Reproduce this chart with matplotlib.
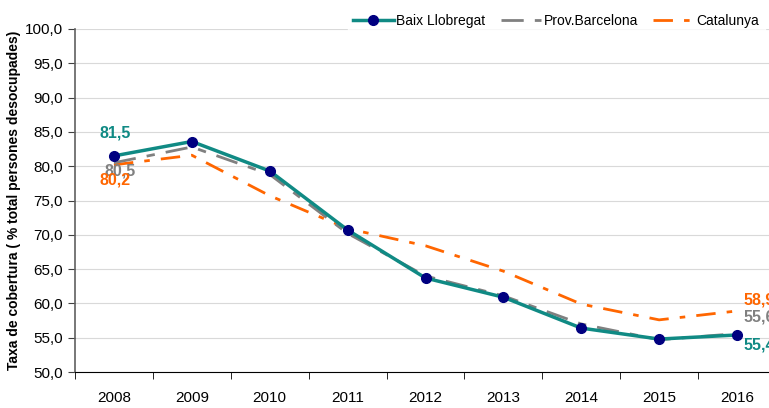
import numpy as np
import matplotlib.pyplot as plt

years = ['2008', '2009', '2010', '2011', '2012', '2013', '2014', '2015', '2016']
baix = [81.5, 83.6, 79.3, 70.7, 63.7, 60.9, 56.4, 54.8, 55.4]
prov = [80.5, 82.8, 78.8, 70.2, 64.0, 61.1, 57.0, 54.7, 55.6]
cat = [80.2, 81.6, 75.7, 70.9, 68.4, 64.7, 59.9, 57.6, 58.9]

plt.rcParams['font.family'] = ['Liberation Sans Narrow', 'Liberation Sans', 'DejaVu Sans']

teal = '#108a84'
navy = '#000080'
grey = '#808080'
orange = '#ff6600'

fig = plt.figure(figsize=(7.69, 4.08), dpi=100)
ax = fig.add_axes([75/769, 36/408, 701/769, 343/408])

x = np.arange(len(years))
ax.plot(x, cat, color=orange, lw=2, dashes=(7, 4, 2, 4), label='Catalunya', zorder=2)
ax.plot(x, prov, color=grey, lw=2, dashes=(8, 4, 3, 4), label='Prov.Barcelona', zorder=3)
ax.plot(x, baix, color=teal, lw=2.5, marker='o', ms=7, mfc=navy, mec=navy,
        label='Baix Llobregat', zorder=4)

fmt = lambda v: ('%.1f' % v).replace('.', ',')
lab = dict(fontsize=11.5, fontweight='bold', va='center')
ax.text(0.02, baix[0] + 3.3, fmt(baix[0]), color=teal, ha='center', **lab)
ax.text(0.08, prov[0] - 1.2, fmt(prov[0]), color=grey, ha='center', **lab)
ax.text(0.02, cat[0] - 2.2, fmt(cat[0]), color=orange, ha='center', **lab)
ax.text(8.08, cat[-1] + 1.6, fmt(cat[-1]), color=orange, ha='left', **lab)
ax.text(8.08, prov[-1] + 2.4, fmt(prov[-1]), color=grey, ha='left', **lab)
ax.text(8.08, baix[-1] - 1.5, fmt(baix[-1]), color=teal, ha='left', **lab)

ax.set_xlim(-0.5, 8.5)
ax.set_ylim(50, 100)
ax.set_yticks(np.arange(50, 100.1, 5))
ax.set_yticklabels([fmt(v) for v in np.arange(50, 100.1, 5)], fontsize=11)
ax.set_xticks(x)
ax.set_xticklabels(years, fontsize=11)
ax.set_xticks(np.arange(-0.5, 9, 1), minor=True)
ax.tick_params(axis='x', which='major', length=0, pad=14)
ax.tick_params(axis='x', which='minor', length=5, direction='out', color='black')
ax.tick_params(axis='y', length=5, direction='out', color='#404040')
ax.grid(axis='y', color='#d9d9d9', lw=0.8)
ax.set_axisbelow(True)

for s in ['top', 'right']:
    ax.spines[s].set_visible(False)
ax.spines['left'].set_color('#606060')
ax.spines['left'].set_linewidth(1.2)
ax.spines['bottom'].set_color('black')

ax.set_ylabel('Taxa de cobertura ( % total persones desocupades)', fontsize=10,
              fontweight='bold', labelpad=3)

handles, labels = ax.get_legend_handles_labels()
leg = fig.legend(handles[::-1], labels[::-1], loc='upper right', ncol=3,
                 bbox_to_anchor=(1.0, 0.99), frameon=True, fontsize=10,
                 handlelength=2.9, handletextpad=0.2, columnspacing=1.1,
                 borderaxespad=0.3)
leg.get_frame().set_facecolor('white')
leg.get_frame().set_edgecolor('white')

fig.savefig('out.png', dpi=100)
